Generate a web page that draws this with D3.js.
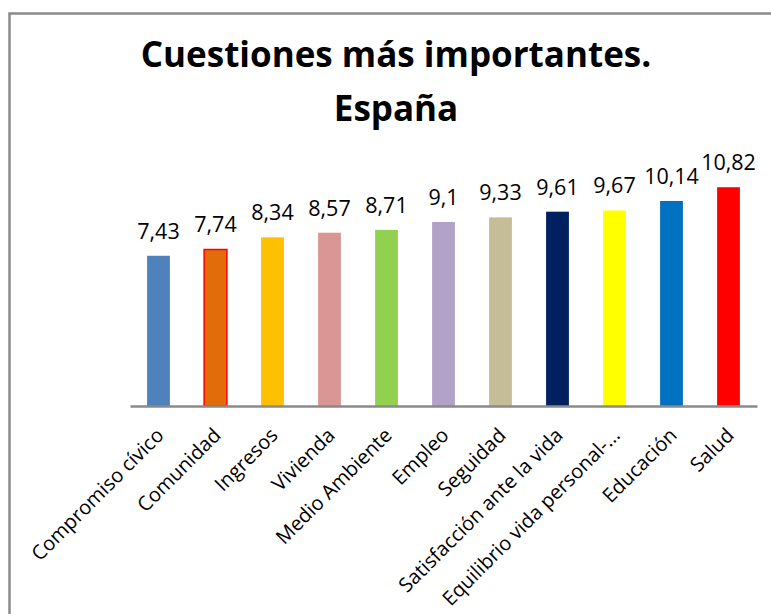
<!DOCTYPE html>
<head>
  <meta charset='utf-8'>
  <title>Cuestiones más importantes. España</title>
  <script src="https://cdnjs.cloudflare.com/ajax/libs/d3/7.8.5/d3.min.js"></script>
  <style>

    body {
      margin: 0;
      background: #fff;
    }

    svg text {
      font-family: "Open Sans", "Noto Sans", sans-serif;
      fill: #000;
    }

    .title {
      text-anchor: middle;
      font-size: 35px;
      font-weight: bold;
    }

    .value {
      text-anchor: middle;
      font-size: 21.5px;
    }

    .cat {
      text-anchor: end;
      font-size: 20px;
    }

  </style>
</head>

<body>
  <div id="chart"></div>

  <script type="text/javascript">
    var categories = ["Compromiso cívico", "Comunidad", "Ingresos", "Vivienda", "Medio Ambiente",
                      "Empleo", "Seguidad", "Satisfacción ante la vida", "Equilibrio vida personal-...",
                      "Educación", "Salud"];
    var values = [7.43, 7.74, 8.34, 8.57, 8.71, 9.1, 9.33, 9.61, 9.67, 10.14, 10.82];
    var valueLabels = ["7,43", "7,74", "8,34", "8,57", "8,71", "9,1", "9,33", "9,61", "9,67", "10,14", "10,82"];
    var colors = ["#4f81bd", "#e36c0a", "#ffc000", "#d99694", "#92d050", "#b3a2c7",
                  "#c4bd97", "#002060", "#ffff00", "#0070c0", "#ff0000"];
    var titleLines = ["Cuestiones más importantes.", "España"];

    var width = 771,
        height = 614,
        axisY = 406;

    var svg = d3.select("#chart").append("svg")
        .attr("width", width)
        .attr("height", height);

    // chart frame, cut off at the right and bottom like the original
    svg.append("rect")
        .attr("x", 9.5)
        .attr("y", 13.5)
        .attr("width", 900)
        .attr("height", 900)
        .style("fill", "none")
        .style("stroke", "#8a8a8a")
        .style("stroke-width", 2.5);

    svg.selectAll(".title")
        .data(titleLines)
      .enter().append("text")
        .attr("class", "title")
        .attr("x", 396)
        .attr("y", function(d, i) { return 67 + i * 54; })
        .text(function(d) { return d; })
        .each(function(d, i) {
          // keep the first line to the width of the original font
          if (i == 0 && Math.abs(this.getComputedTextLength() - 512) > 6) {
            d3.select(this).attr("textLength", 512).attr("lengthAdjust", "spacingAndGlyphs");
          }
        });

    var x = d3.scaleBand()
        .domain(categories)
        .range([130, 757])
        .paddingInner(0.6)
        .paddingOuter(0.3);

    var y = d3.scaleLinear()
        .domain([0, 12])
        .range([axisY, axisY - 12 * 20.22]);

    svg.selectAll(".bar")
        .data(values)
      .enter().append("rect")
        .attr("class", "bar")
        .attr("x", function(d, i) { return x(categories[i]); })
        .attr("y", function(d) { return y(d); })
        .attr("width", x.bandwidth())
        .attr("height", function(d) { return y(0) - y(d); })
        .style("fill", function(d, i) { return colors[i]; })
        .style("stroke", function(d, i) { return i == 1 ? "#ff0000" : "none"; })
        .style("stroke-width", 1.5);

    svg.selectAll(".value")
        .data(values)
      .enter().append("text")
        .attr("class", "value")
        .attr("x", function(d, i) { return x(categories[i]) + x.bandwidth() / 2; })
        .attr("y", function(d) { return y(d) - 17; })
        .text(function(d, i) { return valueLabels[i]; });

    var axis = svg.append("g")
        .attr("transform", "translate(0," + axisY + ")")
        .call(d3.axisBottom(x).tickSize(0).tickFormat(""));

    axis.select(".domain")
        .attr("stroke", "#8a8a8a")
        .attr("stroke-width", 2.5);

    svg.selectAll(".cat")
        .data(categories)
      .enter().append("text")
        .attr("class", "cat")
        .attr("transform", function(d) {
          return "translate(" + (x(d) + x.bandwidth() / 2 - 4) + "," + (axisY + 20) + ") rotate(-45)";
        })
        .attr("dy", "0.75em")
        .text(function(d) { return d; });

  </script>

</body>
